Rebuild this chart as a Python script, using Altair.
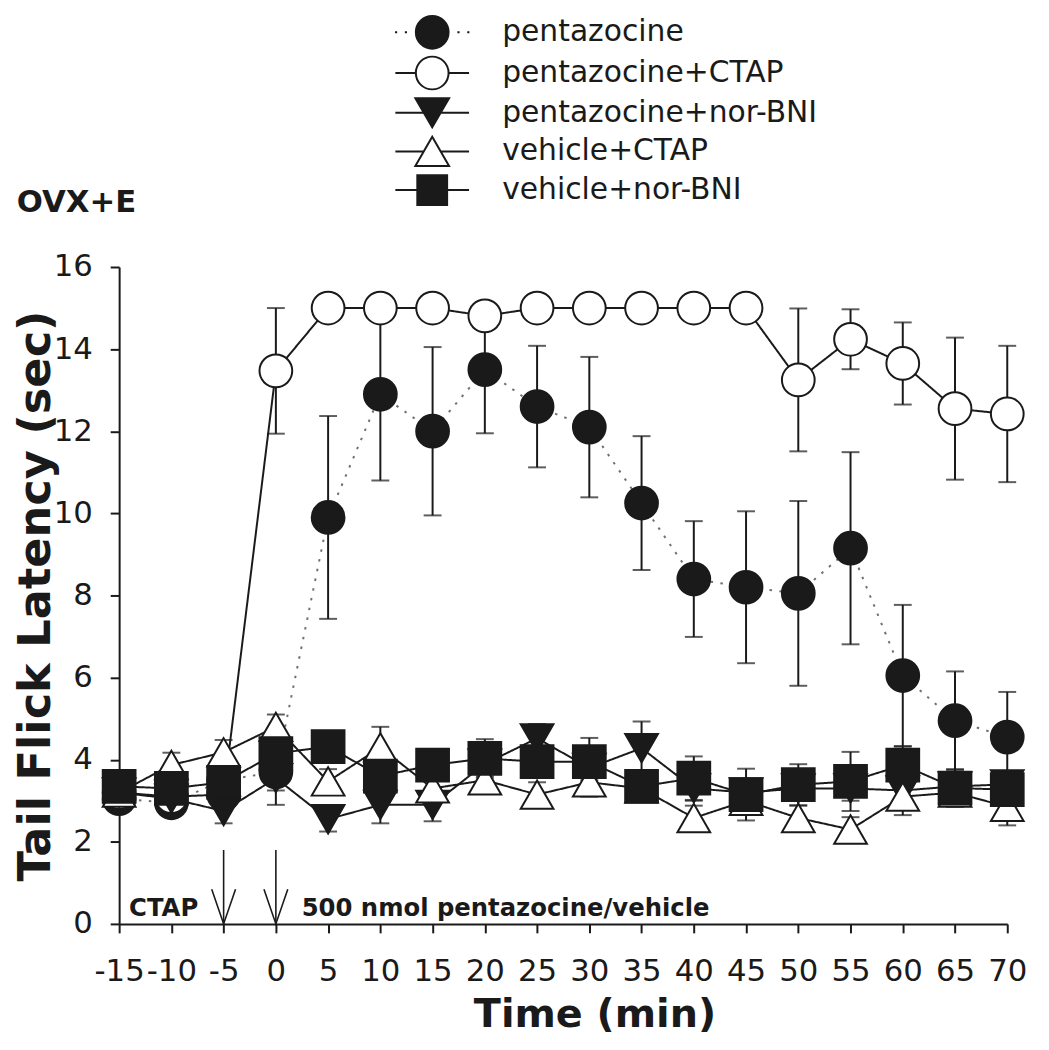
import altair as alt
import pandas as pd

# ---------------- data ----------------
time = [-15, -10, -5, 0, 5, 10, 15, 20, 25, 30, 35, 40, 45, 50, 55, 60, 65, 70]
series_names = ["pentazocine", "pentazocine+CTAP", "pentazocine+nor-BNI",
                "vehicle+CTAP", "vehicle+nor-BNI"]

pentazocine = [3.05, 2.95, 3.5, 3.7, 9.9, 12.9, 12.0, 13.5, 12.6, 12.1, 10.25, 8.4, 8.2, 8.05, 9.15, 6.05, 4.95, 4.55]
pentazocine_err = [0.2, 0.2, 0.3, 0.8, 2.47, 2.1, 2.05, 1.55, 1.48, 1.71, 1.63, 1.41, 1.85, 2.25, 2.34, 1.72, 1.2, 1.1]

pent_ctap = [3.2, 3.1, 3.15, 13.47, 15.0, 15.0, 15.0, 14.81, 15.0, 15.0, 15.0, 15.0, 15.0, 13.25, 14.24, 13.65, 12.55, 12.42]
pent_ctap_err = [0.2, 0.2, 0.3, 1.53, 0, 0, 0, 0.3, 0, 0, 0, 0, 0, 1.74, 0.73, 1.0, 1.73, 1.66]

pent_norbni = [3.2, 3.05, 2.75, 3.55, 2.55, 2.9, 2.9, 3.9, 4.52, 3.8, 4.28, 3.3, 3.2, 3.3, 3.3, 3.25, 3.35, 3.4]
pent_norbni_err = [0.2, 0.2, 0.3, 0.3, 0.3, 0.45, 0.4, 0.3, 0.35, 0.3, 0.65, 0.3, 0.3, 0.3, 0.3, 0.3, 0.3, 0.3]

veh_ctap = [3.2, 3.87, 4.18, 4.8, 3.47, 4.3, 3.3, 3.5, 3.15, 3.45, 3.3, 2.58, 3.0, 2.58, 2.3, 3.1, 3.2, 2.85]
veh_ctap_err = [0.2, 0.3, 0.3, 0.3, 0.3, 0.5, 0.3, 0.3, 0.3, 0.35, 0.3, 0.3, 0.3, 0.3, 0.3, 0.45, 0.3, 0.45]

veh_norbni = [3.35, 3.3, 3.45, 4.15, 4.32, 3.6, 3.87, 4.03, 3.95, 3.95, 3.35, 3.55, 3.15, 3.39, 3.47, 3.87, 3.31, 3.27]
veh_norbni_err = [0.2, 0.25, 0.3, 0.35, 0.3, 0.3, 0.3, 0.47, 0.3, 0.58, 0.3, 0.53, 0.63, 0.5, 0.72, 0.45, 0.46, 0.45]

x_ticks = [-15, -10, -5, 0, 5, 10, 15, 20, 25, 30, 35, 40, 45, 50, 55, 60, 65, 70]
y_ticks = [0, 2, 4, 6, 8, 10, 12, 14, 16]

arrow_x = [-5, 0]
arrow_top = [1.8, 1.8]
arrow_bottom = [0, 0]

panel_label = ["OVX+E"]
panel_label_x = [-24.8]
panel_label_y = [17.33]

annot_text = ["CTAP", "500 nmol pentazocine/vehicle"]
annot_x = [-14.05, 2.47]
annot_y = [0.2, 0.2]

# ---------------- styling ----------------
FONT = "DejaVu Sans"
INK = "#1a1a1a"
shapes = ["circle", "circle", "triangle-down", "triangle-up", "square"]
fills = [INK, "white", INK, "white", INK]
strokes = [INK, INK, INK, INK, INK]
sizes = [1089, 1089, 1190, 1190, 900]
line_colors = ["#707070", INK, INK, INK, INK]
dashes = [[2.5, 7.5], [1, 0], [1, 0], [1, 0], [1, 0]]

# legend symbols: marker with line stubs on both sides (unit = half symbol width)
circ = "M-1,0A1,1 0 1,1 1,0A1,1 0 1,1 -1,0Z"
legend_paths = [
    "M-2.27,0h0.13M-1.67,0h0.13M1.54,0h0.13M2.14,0h0.13" + circ,
    "M-2.25,0H-1M1,0H2.25" + circ,
    "M-2.25,0H-0.52M0.52,0H2.25M-1.03,-0.89L1.03,-0.89L0,0.89Z",
    "M-2.25,0H-0.52M0.52,0H2.25M0,-0.89L-1.03,0.89L1.03,0.89Z",
    "M-2.25,0H-0.91M0.91,0H2.25M-0.91,-0.91H0.91V0.91H-0.91Z",
]

rows = []
for order, (name, vals, errs) in enumerate(zip(
        series_names,
        [pentazocine, pent_ctap, pent_norbni, veh_ctap, veh_norbni],
        [pentazocine_err, pent_ctap_err, pent_norbni_err, veh_ctap_err, veh_norbni_err])):
    for t, v, e in zip(time, vals, errs):
        rows.append(dict(series=name, order=order, time=t, latency=v,
                         err=e, lo=v - e, hi=v + e))
df = pd.DataFrame(rows)

xs = alt.Scale(domain=[-15, 70], nice=False, zero=False)
ys = alt.Scale(domain=[0, 16], nice=False, zero=False)

X = alt.X("time:Q", scale=xs,
          axis=alt.Axis(values=x_ticks, title="Time (min)",
                        labelExpr="'' + datum.value",
                        labelPadding=24, titleFont=FONT, titleFontSize=40,
                        titleFontWeight="bold", titleColor=INK,
                        titleX=479, titleY=103, titleBaseline="alphabetic",
                        titleAnchor="middle", titleAlign="center",
                        labelFlush=False, labelOverlap=False))
Y = alt.Y("latency:Q", scale=ys,
          axis=alt.Axis(values=y_ticks, title="Tail Flick Latency (sec)",
                        labelExpr="'' + datum.value",
                        labelPadding=18, titleFont=FONT, titleFontSize=45,
                        titleFontWeight="bold", titleColor=INK,
                        titleX=-70, titleY=331, titleBaseline="alphabetic",
                        titleAngle=-90, titleAlign="center",
                        labelFlush=False, labelOverlap=False))

base = alt.Chart(df)

err_df = base.transform_filter("datum.err > 0")
err_rules = err_df.mark_rule(strokeWidth=2, color=INK).encode(
    x=X, y=Y, y2="hi:Q")
err_rules_lo = err_df.mark_rule(strokeWidth=2, color=INK).encode(
    x=X, y=alt.Y("lo:Q", scale=ys), y2="latency:Q")
caps_hi = err_df.mark_tick(orient="horizontal", size=18, thickness=2, color=INK).encode(
    x=X, y=alt.Y("hi:Q", scale=ys))
caps_lo = err_df.mark_tick(orient="horizontal", size=18, thickness=2, color=INK).encode(
    x=X, y=alt.Y("lo:Q", scale=ys))

lines = base.mark_line(strokeWidth=2).encode(
    x=X, y=Y,
    detail="series:N",
    color=alt.Color("series:N", scale=alt.Scale(domain=series_names, range=line_colors), legend=None),
    strokeDash=alt.StrokeDash("series:N", scale=alt.Scale(domain=series_names, range=dashes), legend=None),
)

points = base.mark_point(filled=True, stroke=INK, strokeWidth=2, opacity=1).encode(
    x=X, y=Y,
    shape=alt.Shape("series:N", scale=alt.Scale(domain=series_names, range=shapes), legend=None),
    fill=alt.Fill("series:N", scale=alt.Scale(domain=series_names, range=fills), legend=None),
    size=alt.Size("series:N", scale=alt.Scale(domain=series_names, range=sizes), legend=None),
    order=alt.Order("order:Q"),
)

leg = alt.Legend(title=None, orient="none", legendX=278, legendY=-254,
                 symbolSize=1089, symbolStrokeWidth=2, symbolStrokeColor=INK,
                 symbolOpacity=1,
                 symbolOffset=20, labelOffset=53, labelFont=FONT, labelFontSize=30,
                 labelColor=INK, labelLimit=600, rowPadding=0, padding=0, offset=0)
legend_layer = base.transform_filter("false").mark_point(
    filled=True, strokeWidth=2, opacity=1).encode(
    x=X, y=Y,
    shape=alt.Shape("series:N", scale=alt.Scale(domain=series_names, range=legend_paths), legend=leg),
    fill=alt.Fill("series:N", scale=alt.Scale(domain=series_names, range=fills), legend=leg),
    stroke=alt.Stroke("series:N", scale=alt.Scale(domain=series_names, range=strokes), legend=leg),
)

arrow_df = pd.DataFrame(dict(time=arrow_x, top=arrow_top, bottom=arrow_bottom))
arrow_shafts = alt.Chart(arrow_df).mark_rule(strokeWidth=1.6, color=INK).encode(
    x=alt.X("time:Q", scale=xs), y=alt.Y("top:Q", scale=ys), y2="bottom:Q")
arrow_heads = alt.Chart(arrow_df).mark_point(
    shape="M-0.6,-1.75L0,0L0.6,-1.75", filled=False, stroke=INK, strokeWidth=1.6,
    size=1600, opacity=1).encode(
    x=alt.X("time:Q", scale=xs), y=alt.Y("bottom:Q", scale=ys))

panel_df = pd.DataFrame(dict(label=panel_label, time=panel_label_x, yv=panel_label_y))
panel_text = alt.Chart(panel_df).mark_text(
    font=FONT, fontSize=31, fontWeight="bold", align="left", baseline="alphabetic",
    color=INK).encode(
    x=alt.X("time:Q", scale=xs), y=alt.Y("yv:Q", scale=ys), text="label:N")

annot_df = pd.DataFrame(dict(label=annot_text, time=annot_x, yv=annot_y))
annot = alt.Chart(annot_df).mark_text(
    font=FONT, fontSize=24.5, fontWeight="bold", align="left", baseline="alphabetic",
    color=INK).encode(
    x=alt.X("time:Q", scale=xs), y=alt.Y("yv:Q", scale=ys), text="label:N")

chart = alt.layer(
    err_rules, err_rules_lo, caps_hi, caps_lo, arrow_shafts, arrow_heads,
    lines, points, legend_layer, panel_text, annot
).resolve_scale(
    shape="independent", fill="independent", stroke="independent"
).properties(
    width=895, height=662,
    autosize=alt.AutoSizeParams(type="none"),
    padding={"left": 112, "top": 257, "right": 34, "bottom": 115},
).configure_view(stroke=None).configure_axis(
    domainColor=INK, domainWidth=2, tickColor=INK, tickWidth=2, tickSize=9,
    labelFont=FONT, labelFontSize=31, labelColor=INK, grid=False,
)

chart.save("out.html", embed_options={"renderer": "svg", "actions": False})
